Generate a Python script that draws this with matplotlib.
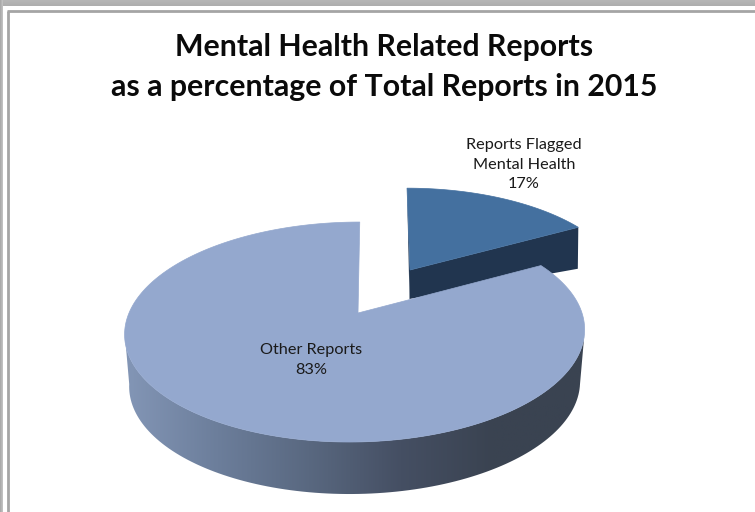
import numpy as np
import matplotlib
matplotlib.use("Agg")
import matplotlib.pyplot as plt
from matplotlib.colors import LinearSegmentedColormap
from matplotlib.patches import Polygon

plt.rcParams["font.family"] = ["Lato", "DejaVu Sans"]

TITLE = ["Mental Health Related Reports", "as a percentage of Total Reports in 2015"]
categories = ["Reports Flagged\nMental Health", "Other Reports"]
shares = [17, 83]

FLAGGED_TOP = "#44709F"
FLAGGED_SIDE = "#21354F"
OTHER_TOP = "#94A8CE"
side_shades = ["#8396B6", "#6C7E9B", "#596880", "#454F63", "#3A4351", "#3A4351"]

TILT = 0.173  # perspective foreshortening of the pie plane


def rim(angles, cx, cy, rx, ry, lean=0.0):
    # angles run clockwise from 12 o'clock, perspective projected onto the page
    t = np.radians(angles)
    u, v = np.sin(t), np.cos(t)
    w = 1 + TILT * v
    return np.column_stack([cx + (rx * u + lean * v) / w, cy - ry * v / w])


def frame_band(ax, extent, vertical, dark="#A8A8A8", light="#DEDEDE"):
    g = np.linspace(0, 1, 32)
    g = g.reshape(1, -1) if vertical else g.reshape(-1, 1)
    cmap = LinearSegmentedColormap.from_list("band", [dark, light])
    ax.imshow(g, extent=extent, aspect="auto", cmap=cmap, zorder=1)


fig = plt.figure(figsize=(7.55, 5.12), dpi=100)
ax = fig.add_axes([0, 0, 1, 1])
ax.axis("off")

# window chrome round the chart
frame_band(ax, (0, 755, 6, 0), False, "#B6B6B6", "#AEAEAE")
frame_band(ax, (0, 3, 512, 0), True, "#A6A6A6", "#C4C4C4")
ax.plot([8, 8], [11, 512], color="#A5A5A5", lw=2, zorder=2, solid_capstyle="butt")
ax.plot([7, 755], [10.5, 10.5], color="#A5A5A5", lw=2, zorder=2, solid_capstyle="butt")

flagged_sweep = shares[0] / sum(shares) * 360

# detached slice: underside first, then its top face
a = np.linspace(0, flagged_sweep, 60)
top = rim(a, 410, 270, 210, 96, lean=-3.5)
low = rim(a, 409.5, 299, 210, 68, lean=-3.5)
ax.add_patch(Polygon(np.vstack([[[410, 270]], top[[0]], [[409.5, 299]]]),
                     fc=FLAGGED_SIDE, ec="none", zorder=3))
ax.add_patch(Polygon(np.vstack([[[410, 270]], top[[-1]], low[[-1]], [[409.5, 299]]]),
                     fc=FLAGGED_SIDE, ec="none", zorder=3))
ax.add_patch(Polygon(np.vstack([[[410, 270]], top]), fc=FLAGGED_TOP, ec=FLAGGED_TOP,
                     lw=0.5, zorder=4))

# shaded wall of the large slice
a = np.linspace(100, 260, 120)
top = rim(a, 355.5, 313, 226.5, 106.7, lean=5)
low = rim(a, 355.5, 365, 222, 106.7, lean=5)
wall = Polygon(np.vstack([top, low[::-1]]), fc="none", ec="none", zorder=5)
ax.add_patch(wall)
shade = ax.imshow(np.linspace(0, 1, 256).reshape(1, -1), extent=(125, 585, 512, 300),
                  aspect="auto", zorder=5,
                  cmap=LinearSegmentedColormap.from_list("wall", side_shades))
shade.set_clip_path(wall)

# top face of the large slice
a = np.linspace(flagged_sweep, 360, 240)
top = rim(a, 355.5, 313, 226.5, 106.7, lean=5)
ax.add_patch(Polygon(np.vstack([[[358, 313]], top]), fc=OTHER_TOP, ec=OTHER_TOP,
                     lw=0.5, zorder=6))

# title and slice labels
for line, y in zip(TITLE, [56, 96]):
    ax.text(384, y, line, ha="center", va="baseline", fontsize=21.8, fontweight="bold",
            color="#0A0A0A", zorder=8)
ax.text(524, 165, f"{categories[0]}\n{shares[0]}%", ha="center", va="center",
        fontsize=11.7, color="#1A1A1A", linespacing=1.5, zorder=8)
ax.text(311, 360, f"{categories[1]}\n{shares[1]}%", ha="center", va="center",
        fontsize=11.7, color="#1A1A1A", linespacing=1.5, zorder=8)

ax.set_xlim(0, 755)
ax.set_ylim(512, 0)
fig.savefig("out.png", dpi=100)
